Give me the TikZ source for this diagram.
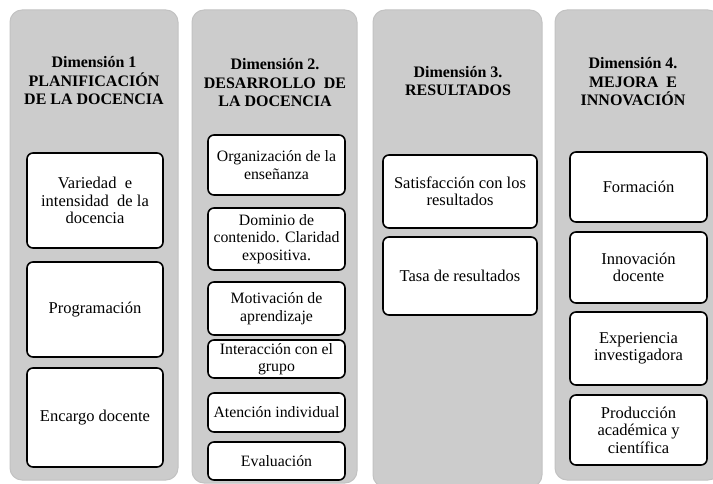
\documentclass[tikz,border=0pt]{standalone}
\usepackage{fontspec}
\setmainfont{Liberation Serif}
\newfontfamily\dimfont{Liberation Serif}

\begin{document}
\begin{tikzpicture}[x=1pt,y=-1pt]

\tikzstyle dim=[rectangle, rounded corners=12pt, fill=black!20, draw=black!24, line width=1pt, inner sep=0pt]
\tikzstyle head=[align=center, font=\dimfont\fontsize{16}{18.5}\selectfont\bfseries, inner sep=0pt]
\tikzstyle item=[rectangle, rounded corners=6pt, draw=black, line width=1.6pt, fill=white, align=center, font=\dimfont\fontsize{16.5}{17.5}\selectfont, inner sep=1pt]
\tikzstyle small item=[item, font=\dimfont\fontsize{15.8}{17.5}\selectfont]

\useasboundingbox (0,0) rectangle (713,484);

\node (d1) [dim, minimum width=168pt, minimum height=470pt] at (94,245) {};
\node (d2) [dim, minimum width=165pt, minimum height=473pt] at (274.5,246.5) {};
\node (d3) [dim, minimum width=169pt, minimum height=477pt] at (457.5,248.5) {};
\node (d4) [dim, minimum width=165pt, minimum height=470pt] at (637.5,245) {};

\node (t1) [head] at (94,81)  {Dimensión 1\\PLANIFICACIÓN\\DE LA DOCENCIA};
\node (t2) [head] at (275,83) {Dimensión 2.\\DESARROLLO~~DE\\LA DOCENCIA};
\node (t3) [head] at (458,81) {Dimensión 3.\\RESULTADOS};
\node (t4) [head] at (633,82) {Dimensión 4.\\MEJORA~~E\\INNOVACIÓN};

\node (a1) [item, minimum width=136pt, minimum height=95pt] at (95,200.5) {Variedad~~e\\intensidad~~de la\\docencia};
\node (a2) [item, minimum width=136pt, minimum height=95pt] at (95,309.5) {Programación};
\node (a3) [item, minimum width=136pt, minimum height=99pt] at (95,417.5) {Encargo docente};

\node (b1) [small item, minimum width=137pt, minimum height=60pt] at (276.5,165)   {Organización de la\\enseñanza};
\node (b2) [small item, minimum width=137pt, minimum height=62pt] at (276.5,239)   {Dominio de\\contenido. Claridad\\expositiva.};
\node (b3) [small item, minimum width=137pt, minimum height=53pt] at (276.5,308.5) {Motivación de\\aprendizaje};
\node (b4) [small item, minimum width=137pt, minimum height=38pt] at (276.5,359)   {Interacción con el\\grupo};
\node (b5) [small item, minimum width=137pt, minimum height=39pt] at (276.5,412.5) {Atención individual};
\node (b6) [small item, minimum width=137pt, minimum height=38pt] at (276.5,461)   {Evaluación};

\node (c1) [item, minimum width=154pt, minimum height=73pt] at (460,191.5) {Satisfacción con los\\resultados};
\node (c2) [item, minimum width=154pt, minimum height=78pt] at (460,276)   {Tasa de resultados};

\node (e1) [item, minimum width=137pt, minimum height=70pt] at (638.5,187)   {Formación};
\node (e2) [item, minimum width=137pt, minimum height=71pt] at (638.5,267.5) {Innovación\\docente};
\node (e3) [item, minimum width=137pt, minimum height=73pt] at (638.5,348.5) {Experiencia\\investigadora};
\node (e4) [item, minimum width=137pt, minimum height=70pt] at (638.5,430)   {Producción\\académica y\\científica};

\end{tikzpicture}
\end{document}
